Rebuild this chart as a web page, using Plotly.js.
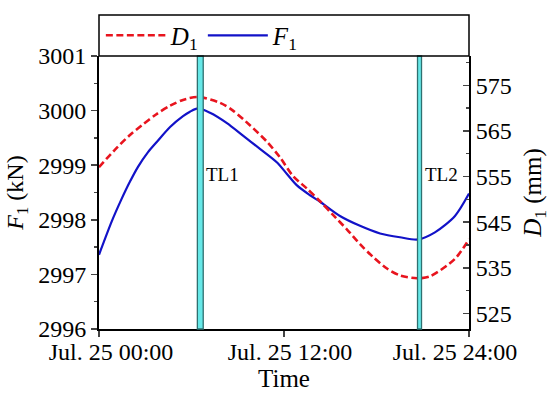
<!DOCTYPE html>
<html>
<head>
<meta charset="utf-8">
<script src="https://cdn.plot.ly/plotly-3.0.1.min.js"></script>
<style>html,body{margin:0;padding:0;background:#fff}#chart{width:550px;height:396px}</style>
</head>
<body>
<div id="chart"></div>
<script>
// Time in hours from Jul. 25 00:00
const fHours = [0, 0.84, 1.43, 2.01, 2.53, 3.18, 3.76, 4.61, 5.45, 5.90, 6.42, 7.20, 8.30, 9.34, 10.44, 11.55, 12.19, 12.84, 13.69, 14.34, 15.63, 16.93, 18.23, 19.52, 20.69, 21.79, 23.09, 24];
const fValues = [2997.36, 2997.98, 2998.36, 2998.70, 2998.97, 2999.24, 2999.43, 2999.70, 2999.90, 2999.98, 3000.04, 2999.96, 2999.77, 2999.54, 2999.30, 2999.05, 2998.84, 2998.63, 2998.45, 2998.33, 2998.07, 2997.89, 2997.75, 2997.68, 2997.64, 2997.77, 2998.07, 2998.48];
const dHours = [0, 1.04, 2.01, 2.79, 3.70, 4.61, 5.45, 6.42, 7.85, 8.69, 9.79, 10.90, 11.74, 12.58, 13.49, 14.34, 15.18, 16.09, 16.93, 17.77, 18.68, 19.52, 20.63, 21.47, 23.09, 24];
const dValues = [557.05, 560.90, 564.10, 566.24, 568.59, 570.51, 571.79, 572.44, 571.15, 569.44, 566.24, 562.61, 559.19, 555.13, 552.35, 549.57, 546.58, 543.38, 540.17, 537.39, 534.83, 533.33, 532.69, 533.12, 536.97, 541.24];
const tlNames = ['TL1', 'TL2'];
const tlStart = [6.38, 20.66];
const tlEnd = [6.76, 20.92];
const xTickVals = [0, 12, 24];
const xTickText = ['Jul. 25 00:00', 'Jul. 25 12:00', 'Jul. 25 24:00'];
const xLabelPos = [0.78, 12.39, 23.09];
const leftTicks = [2996, 2997, 2998, 2999, 3000, 3001];
const rightTicks = [525, 535, 545, 555, 565, 575];
const rightMinor = [530, 540, 550, 560, 570, 580];

const serif = 'Liberation Serif, serif';

const traces = [
  {x: dHours, y: dValues, name: '<i>D</i><sub>1</sub>', yaxis: 'y2', mode: 'lines', line: {color: '#e8141e', width: 2.6, dash: '7px,3.5px', shape: 'spline', smoothing: 0.8}},
  {x: fHours, y: fValues, name: '<i>F</i><sub>1</sub>', yaxis: 'y', mode: 'lines', line: {color: '#1212c8', width: 2.2, shape: 'spline', smoothing: 0.8}},
  {x: [0, 24], y: [null, null], xaxis: 'x2', yaxis: 'y', mode: 'lines', showlegend: false, hoverinfo: 'skip'}
];

const shapes = [];
const annotations = [];
for (let i = 0; i < tlNames.length; i++) {
  shapes.push({type: 'rect', xref: 'x', yref: 'paper', x0: tlStart[i], x1: tlEnd[i], y0: 0, y1: 1,
    fillcolor: '#66e8e8', line: {color: '#2f7070', width: 1.3}, layer: 'above'});
  annotations.push({xref: 'x', yref: 'paper', x: tlEnd[i], y: 0.565, xanchor: 'left', xshift: 1, text: tlNames[i],
    showarrow: false, font: {family: serif, size: 19, color: '#000'}});
}
// legend box
shapes.push({type: 'rect', xref: 'paper', yref: 'paper', x0: 0, x1: 1, y0: 1, y1: 1 + 42/280,
  line: {color: '#000', width: 1.5}, fillcolor: 'rgba(0,0,0,0)'});

const layout = {
  width: 550, height: 396,
  margin: {l: 99, r: 81, t: 49, b: 67},
  paper_bgcolor: '#fff', plot_bgcolor: '#fff',
  font: {family: serif, color: '#000', size: 24},
  showlegend: true,
  legend: {orientation: 'h', x: 0.005, y: 1.075, xanchor: 'left', yanchor: 'middle',
    font: {family: serif, size: 25, color: '#000'}, bgcolor: 'rgba(0,0,0,0)', itemwidth: 60,
    entrywidth: 27, entrywidthmode: 'pixels', tracegroupgap: 0},
  xaxis: {range: [0, 24], tickvals: xTickVals, showticklabels: false, ticks: 'outside', ticklen: 6, tickwidth: 1.5,
    showline: true, linecolor: '#000', linewidth: 2, showgrid: false, zeroline: false,
    title: {text: 'Time', font: {family: serif, size: 25}, standoff: 33}},
  xaxis2: {range: [0, 24], overlaying: 'x', anchor: 'y', side: 'bottom', tickvals: xLabelPos, ticktext: xTickText,
    ticks: '', ticklabelstandoff: 6, showline: false, showgrid: false, zeroline: false, tickfont: {family: serif, size: 24}},
  yaxis: {range: [2996, 3001], tickvals: leftTicks, ticks: 'outside', ticklen: 6, tickwidth: 1.5,
    minor: {dtick: 0.5, tick0: 2996, ticks: 'outside', ticklen: 3, tickwidth: 1.3, showgrid: false},
    showline: true, linecolor: '#000', linewidth: 2, showgrid: false, zeroline: false, tickfont: {family: serif, size: 24},
    title: {text: '<i>F</i><sub>1</sub> (kN)', font: {family: serif, size: 24}, standoff: 8}},
  yaxis2: {range: [521.58, 581.41], overlaying: 'y', side: 'right', tickvals: rightTicks,
    ticks: 'inside', ticklen: 6, tickwidth: 1.5,
    minor: {tickvals: rightMinor, ticks: 'inside', ticklen: 3, tickwidth: 1.3, showgrid: false},
    showline: true, linecolor: '#000', linewidth: 2, showgrid: false, zeroline: false, tickfont: {family: serif, size: 24},
    title: {text: '<i>D</i><sub>1</sub> (mm)', font: {family: serif, size: 25}, standoff: 14}},
  shapes: shapes,
  annotations: annotations
};

Plotly.newPlot('chart', traces, layout, {displayModeBar: false, staticPlot: true});
</script>
</body>
</html>
